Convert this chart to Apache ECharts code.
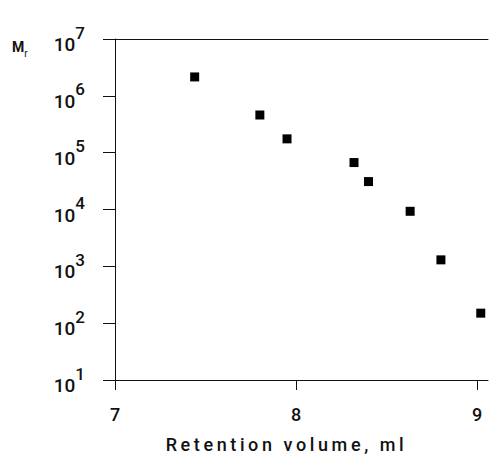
<!DOCTYPE html>
<html>
<head>
<meta charset="utf-8">
<script src="https://cdn.jsdelivr.net/npm/echarts@6/dist/echarts.min.js"></script>
<style>
  html, body { margin: 0; padding: 0; background: #fff; }
  #chart { width: 490px; height: 458px; }
</style>
</head>
<body>
<div id="chart"></div>
<script>
// retention volume (ml) and molecular mass
var retentionVol = [7.44, 7.80, 7.95, 8.32, 8.40, 8.63, 8.80, 9.02];
var molMass = [2.15e6, 4.6e5, 1.75e5, 6.7e4, 3.1e4, 9.3e3, 1.3e3, 1.5e2];
var xTicks = [7, 8, 9];
var xTitle = 'Retention volume, ml';

var points = [];
for (var i = 0; i < retentionVol.length; i++) {
  points.push([retentionVol[i], molMass[i]]);
}

var chart = echarts.init(document.getElementById('chart'), null, { renderer: 'svg' });
var font = 'Roboto, Liberation Sans, Arial, sans-serif';

chart.setOption({
  animation: false,
  backgroundColor: '#fff',
  grid: { left: 115, right: 2, top: 39, bottom: 74 },
  xAxis: [{
    type: 'value',
    min: 7,
    max: 9.06,
    interval: 1,
    splitLine: { show: false },
    axisLine: { lineStyle: { color: '#111', width: 1 } },
    axisTick: { length: 10, lineStyle: { color: '#111' }, customValues: xTicks },
    axisLabel: {
      customValues: xTicks,
      color: '#111', fontSize: 18, fontWeight: 500, fontFamily: font, margin: 25
    },
    name: xTitle,
    nameLocation: 'middle',
    nameGap: 55,
    nameTextStyle: { color: '#111', fontSize: 18, fontWeight: 500, fontFamily: font, padding: [0, 30, 0, 0] }
  }, {
    type: 'value',
    position: 'top',
    min: 7,
    max: 9.06,
    axisLine: { show: true, lineStyle: { color: '#111', width: 1 } },
    axisTick: { show: false },
    axisLabel: { show: false },
    splitLine: { show: false }
  }],
  yAxis: {
    type: 'log',
    logBase: 10,
    min: 10,
    max: 1e7,
    splitLine: { show: false },
    axisLine: { show: true, lineStyle: { color: '#111', width: 1 } },
    axisTick: { show: true, length: 12, lineStyle: { color: '#111' } },
    axisLabel: {
      color: '#111',
      margin: 30,
      formatter: function (v) {
        var e = Math.round(Math.log(v) / Math.LN10);
        return '{b|10}{e|' + e + '}';
      },
      rich: {
        b: { fontSize: 19, fontWeight: 500, fontFamily: font, color: '#111', lineHeight: 30, verticalAlign: 'bottom' },
        e: { fontSize: 17, fontWeight: 500, fontFamily: font, color: '#111', lineHeight: 30, verticalAlign: 'top' }
      }
    }
  },
  graphic: [{
    type: 'text',
    left: 12,
    top: 40,
    style: {
      text: '{m|M}{r|r}',
      rich: {
        m: { fontSize: 14, fontWeight: 'bold', fontFamily: font, fill: '#111', lineHeight: 18, verticalAlign: 'top' },
        r: { fontSize: 10, fontFamily: font, fill: '#111', lineHeight: 18, verticalAlign: 'bottom' }
      }
    }
  }],
  series: [{
    type: 'scatter',
    data: points,
    symbol: 'rect',
    symbolSize: 9,
    itemStyle: { color: '#000', opacity: 1 }
  }]
});

// the printed axis title is widely tracked
var texts = document.querySelectorAll('#chart text');
for (var j = 0; j < texts.length; j++) {
  if (texts[j].textContent === xTitle) {
    texts[j].style.letterSpacing = '3.6px';
  }
}
</script>
</body>
</html>
